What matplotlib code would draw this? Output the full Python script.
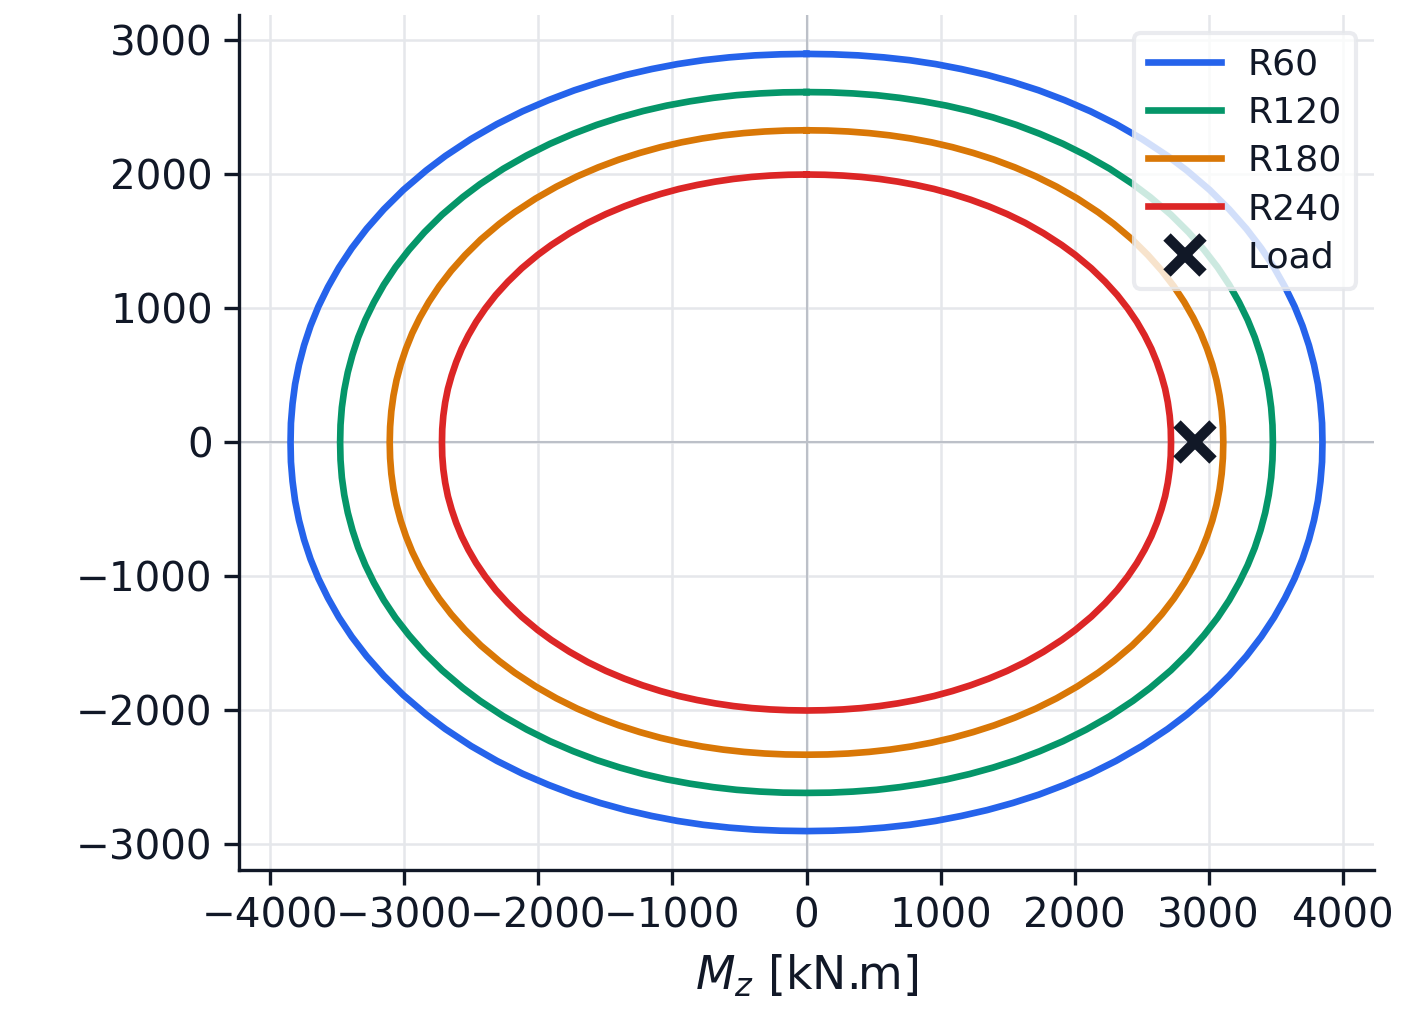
import numpy as np
import matplotlib
matplotlib.use("Agg")
import matplotlib.pyplot as plt

# Interaction curves, first quadrant (Mz >= 0, My >= 0).
# The curves are symmetric about both axes, so the rest is mirrored.
LABELS = ["R60", "R120", "R180", "R240"]
COLORS = ["#2563eb", "#059669", "#d97706", "#dc2626"]

MZ_R60 = [0, 193, 385, 578, 770, 963, 1155, 1348, 1540, 1733, 1925, 2118, 2310, 2503, 2695,
          2838, 3008, 3154, 3282, 3393, 3489, 3571, 3642, 3701, 3749, 3787, 3816, 3835, 3847, 3850]
MY_R60 = [2900, 2897, 2889, 2874, 2853, 2824, 2787, 2743, 2690, 2628, 2555, 2472, 2376, 2265, 2138,
          2030, 1885, 1740, 1595, 1450, 1305, 1160, 1015, 870, 725, 580, 435, 290, 145, 0]

MZ_R120 = [0, 174, 348, 522, 696, 870, 1044, 1218, 1392, 1566, 1740, 1914, 2088, 2262, 2436,
           2565, 2719, 2851, 2966, 3067, 3154, 3228, 3292, 3345, 3388, 3423, 3449, 3467, 3477, 3480]
MY_R120 = [2615, 2613, 2605, 2592, 2572, 2546, 2514, 2474, 2426, 2370, 2304, 2229, 2142, 2043, 1928,
           1831, 1700, 1569, 1438, 1308, 1177, 1046, 915, 785, 654, 523, 392, 262, 131, 0]

MZ_R180 = [0, 156, 311, 467, 622, 778, 933, 1089, 1244, 1400, 1555, 1711, 1866, 2022, 2177,
           2293, 2430, 2548, 2651, 2741, 2818, 2885, 2942, 2989, 3028, 3059, 3082, 3098, 3107, 3110]
MY_R180 = [2330, 2328, 2321, 2309, 2292, 2269, 2240, 2204, 2161, 2111, 2053, 1986, 1909, 1820, 1718,
           1631, 1515, 1398, 1282, 1165, 1049, 932, 816, 699, 583, 466, 350, 233, 117, 0]

MZ_R240 = [0, 136, 272, 408, 544, 680, 816, 952, 1088, 1224, 1360, 1496, 1632, 1768, 1904,
           2005, 2125, 2228, 2319, 2397, 2465, 2523, 2573, 2614, 2648, 2676, 2696, 2710, 2718, 2720]
MY_R240 = [2000, 1998, 1992, 1982, 1967, 1947, 1922, 1892, 1855, 1812, 1762, 1705, 1639, 1562, 1474,
           1400, 1300, 1200, 1100, 1000, 900, 800, 700, 600, 500, 400, 300, 200, 100, 0]

LOAD_MZ = [2900]
LOAD_MY = [0]

TEXT = "#111827"


def full_loop(mz_q, my_q):
    mz = np.asarray(mz_q, dtype=float)
    my = np.asarray(my_q, dtype=float)
    # quadrant I (top -> right), IV, III, II, closed
    x = np.concatenate([mz, mz[::-1][1:], -mz[1:], -mz[::-1][1:]])
    y = np.concatenate([my, -my[::-1][1:], -my[1:], my[::-1][1:]])
    return x, y


plt.rcParams["font.family"] = "DejaVu Sans"
plt.rcParams["mathtext.fontset"] = "dejavusans"

fig = plt.figure(figsize=(1408 / 300, 1023 / 300), dpi=300)
ax = fig.add_axes([0.1697, 0.1496, 0.8062, 0.8357])

ax.set_axisbelow(True)
ax.grid(True, color="#e5e7eb", linewidth=0.6)
ax.axhline(0, color="#bcc0c8", linewidth=0.5, zorder=1)
ax.axvline(0, color="#bcc0c8", linewidth=0.5, zorder=1)

curves = [(MZ_R60, MY_R60), (MZ_R120, MY_R120), (MZ_R180, MY_R180), (MZ_R240, MY_R240)]
for (mz, my), lab, col in zip(curves, LABELS, COLORS):
    x, y = full_loop(mz, my)
    ax.plot(x, y, color=col, linewidth=1.6, label=lab, zorder=2)

ax.plot(LOAD_MZ, LOAD_MY, linestyle="none", marker="x", markersize=8.5,
        markeredgewidth=2.5, color=TEXT, label="Load", zorder=3)

ax.set_xticks([-4000, -3000, -2000, -1000, 0, 1000, 2000, 3000, 4000])
ax.set_yticks([-3000, -2000, -1000, 0, 1000, 2000, 3000])
ax.set_xlabel(r"$M_z$ [kN.m]", fontsize=11, color=TEXT, labelpad=4)

for side in ["top", "right"]:
    ax.spines[side].set_visible(False)
for side in ["left", "bottom"]:
    ax.spines[side].set_color(TEXT)
    ax.spines[side].set_linewidth(0.8)
ax.tick_params(axis="both", labelsize=9.7, colors=TEXT, length=3.5, width=0.8, pad=2.8)

leg = ax.legend(loc="upper right", fontsize=8.7, frameon=True, fancybox=True,
                framealpha=0.8, edgecolor="#e5e7eb", labelspacing=0.39,
                handletextpad=0.72, borderaxespad=0.5)
for t in leg.get_texts():
    t.set_color(TEXT)

fig.savefig("out.png", dpi=300)
